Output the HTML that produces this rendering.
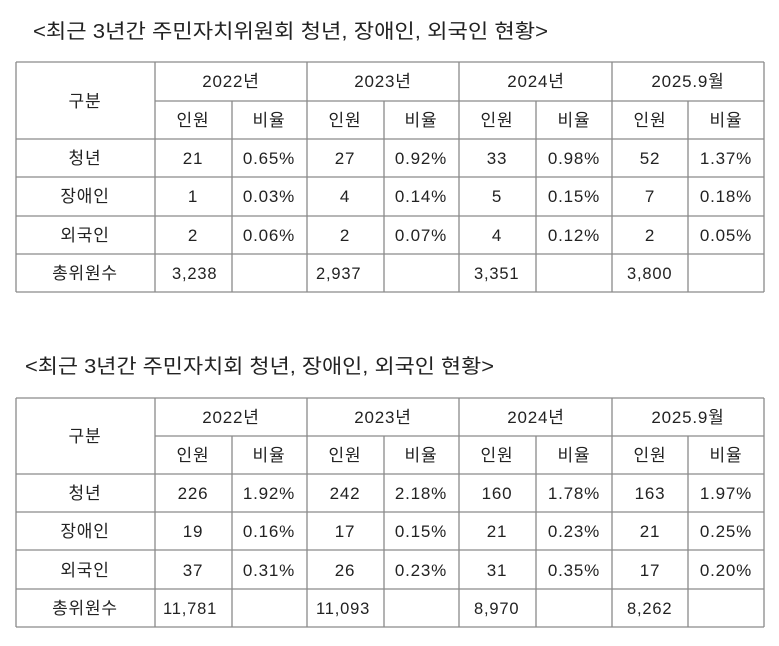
<!DOCTYPE html>
<html><head><meta charset="utf-8"><style>
body{margin:0;background:#fff;width:779px;height:646px;overflow:hidden}
svg{display:block}
text{font-family:"Liberation Sans","Noto Sans CJK KR",sans-serif;font-size:17px;letter-spacing:0.8px;fill:#222;text-anchor:middle}
.t{font-size:20px;letter-spacing:0;text-anchor:start}
.l{text-anchor:start;font-size:16.5px}
line{stroke:#8a8a8a;stroke-width:1.3}
</style></head><body>
<svg width="779" height="646" viewBox="0 0 779 646">
<text class="t" x="33" y="38" textLength="515" lengthAdjust="spacingAndGlyphs">&lt;최근 3년간 주민자치위원회 청년, 장애인, 외국인 현황&gt;</text>
<text class="t" x="25" y="373" textLength="469" lengthAdjust="spacingAndGlyphs">&lt;최근 3년간 주민자치회 청년, 장애인, 외국인 현황&gt;</text>

<g id="t1">
<line x1="16" y1="62" x2="764" y2="62"/>
<line x1="155" y1="101" x2="764" y2="101"/>
<line x1="16" y1="139" x2="764" y2="139"/>
<line x1="16" y1="177" x2="764" y2="177"/>
<line x1="16" y1="216" x2="764" y2="216"/>
<line x1="16" y1="254" x2="764" y2="254"/>
<line x1="16" y1="292" x2="764" y2="292"/>
<line x1="16" y1="62" x2="16" y2="292"/>
<line x1="155" y1="62" x2="155" y2="292"/>
<line x1="307" y1="62" x2="307" y2="292"/>
<line x1="459" y1="62" x2="459" y2="292"/>
<line x1="612" y1="62" x2="612" y2="292"/>
<line x1="764" y1="62" x2="764" y2="292"/>
<line x1="232" y1="101" x2="232" y2="292"/>
<line x1="384" y1="101" x2="384" y2="292"/>
<line x1="536" y1="101" x2="536" y2="292"/>
<line x1="688" y1="101" x2="688" y2="292"/>

<text x="85" y="107">구분</text>
<text x="231" y="87">2022년</text><text x="383" y="87">2023년</text><text x="536" y="87">2024년</text><text x="688" y="87">2025.9월</text>
<text x="193" y="126">인원</text><text x="269" y="126">비율</text><text x="345" y="126">인원</text><text x="421" y="126">비율</text><text x="497" y="126">인원</text><text x="574" y="126">비율</text><text x="650" y="126">인원</text><text x="726" y="126">비율</text>

<text x="85" y="164">청년</text><text x="193" y="164">21</text><text x="269" y="164">0.65%</text><text x="345" y="164">27</text><text x="421" y="164">0.92%</text><text x="497" y="164">33</text><text x="574" y="164">0.98%</text><text x="650" y="164">52</text><text x="726" y="164">1.37%</text>
<text x="85" y="202">장애인</text><text x="193" y="202">1</text><text x="269" y="202">0.03%</text><text x="345" y="202">4</text><text x="421" y="202">0.14%</text><text x="497" y="202">5</text><text x="574" y="202">0.15%</text><text x="650" y="202">7</text><text x="726" y="202">0.18%</text>
<text x="85" y="241">외국인</text><text x="193" y="241">2</text><text x="269" y="241">0.06%</text><text x="345" y="241">2</text><text x="421" y="241">0.07%</text><text x="497" y="241">4</text><text x="574" y="241">0.12%</text><text x="650" y="241">2</text><text x="726" y="241">0.05%</text>
<text x="85" y="279">총위원수</text><text class="l" x="172" y="279">3,238</text><text class="l" x="316" y="279">2,937</text><text class="l" x="474" y="279">3,351</text><text class="l" x="627" y="279">3,800</text>
</g>

<g id="t2">
<line x1="16" y1="398" x2="764" y2="398"/>
<line x1="155" y1="436" x2="764" y2="436"/>
<line x1="16" y1="474" x2="764" y2="474"/>
<line x1="16" y1="512" x2="764" y2="512"/>
<line x1="16" y1="550" x2="764" y2="550"/>
<line x1="16" y1="589" x2="764" y2="589"/>
<line x1="16" y1="627" x2="764" y2="627"/>
<line x1="16" y1="398" x2="16" y2="627"/>
<line x1="155" y1="398" x2="155" y2="627"/>
<line x1="307" y1="398" x2="307" y2="627"/>
<line x1="459" y1="398" x2="459" y2="627"/>
<line x1="612" y1="398" x2="612" y2="627"/>
<line x1="764" y1="398" x2="764" y2="627"/>
<line x1="232" y1="436" x2="232" y2="627"/>
<line x1="384" y1="436" x2="384" y2="627"/>
<line x1="536" y1="436" x2="536" y2="627"/>
<line x1="688" y1="436" x2="688" y2="627"/>

<text x="85" y="442">구분</text>
<text x="231" y="423">2022년</text><text x="383" y="423">2023년</text><text x="536" y="423">2024년</text><text x="688" y="423">2025.9월</text>
<text x="193" y="461">인원</text><text x="269" y="461">비율</text><text x="345" y="461">인원</text><text x="421" y="461">비율</text><text x="497" y="461">인원</text><text x="574" y="461">비율</text><text x="650" y="461">인원</text><text x="726" y="461">비율</text>

<text x="85" y="499">청년</text><text x="193" y="499">226</text><text x="269" y="499">1.92%</text><text x="345" y="499">242</text><text x="421" y="499">2.18%</text><text x="497" y="499">160</text><text x="574" y="499">1.78%</text><text x="650" y="499">163</text><text x="726" y="499">1.97%</text>
<text x="85" y="537">장애인</text><text x="193" y="537">19</text><text x="269" y="537">0.16%</text><text x="345" y="537">17</text><text x="421" y="537">0.15%</text><text x="497" y="537">21</text><text x="574" y="537">0.23%</text><text x="650" y="537">21</text><text x="726" y="537">0.25%</text>
<text x="85" y="576">외국인</text><text x="193" y="576">37</text><text x="269" y="576">0.31%</text><text x="345" y="576">26</text><text x="421" y="576">0.23%</text><text x="497" y="576">31</text><text x="574" y="576">0.35%</text><text x="650" y="576">17</text><text x="726" y="576">0.20%</text>
<text x="85" y="614">총위원수</text><text class="l" x="163" y="614">11,781</text><text class="l" x="316" y="614">11,093</text><text class="l" x="474" y="614">8,970</text><text class="l" x="627" y="614">8,262</text>
</g>
</svg>
</body></html>
